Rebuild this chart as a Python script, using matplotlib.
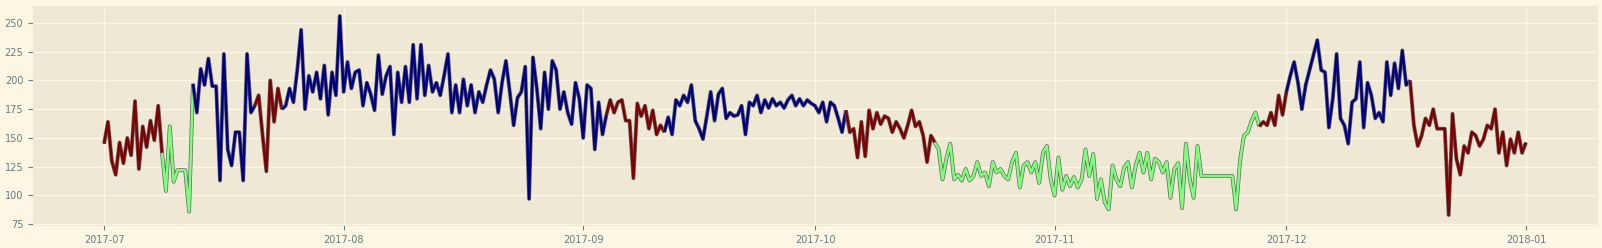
import numpy as np
import pandas as pd
import matplotlib
matplotlib.use("Agg")
import matplotlib.pyplot as plt
import matplotlib.patheffects as pe

# 12-hourly readings, 2017-07-01 00:00 -> 2018-01-01 00:00
jul = [145, 164, 130, 118, 146, 128, 150, 135, 182, 123,
       160, 142, 165, 148, 178, 137, 104, 160, 112, 122,
       122, 122, 86, 197, 172, 210, 196, 219, 195, 195,
       113, 223, 140, 126, 155, 155, 113, 223, 172, 178,
       187, 153, 121, 200, 164, 193, 175, 178, 193, 181,
       209, 244, 175, 204, 190, 207, 184, 213, 170, 207,
       187, 256]
aug = [190, 216, 193, 207, 209, 178, 198, 188, 174, 222,
       188, 204, 212, 153, 207, 181, 212, 181, 231, 184,
       231, 187, 213, 190, 198, 187, 204, 223, 172, 196,
       172, 201, 178, 196, 172, 190, 181, 196, 209, 201,
       172, 198, 217, 190, 161, 185, 190, 212, 97, 220,
       193, 158, 207, 175, 217, 209, 175, 190, 172, 162,
       198, 184]
sep = [150, 196, 193, 140, 181, 153, 170, 183, 172, 181,
       183, 165, 165, 115, 180, 169, 178, 158, 174, 153,
       161, 155, 168, 153, 183, 178, 187, 181, 196, 165,
       158, 149, 169, 190, 165, 188, 193, 167, 172, 169,
       170, 178, 153, 181, 178, 187, 172, 183, 176, 184,
       178, 181, 176, 183, 187, 178, 184, 178, 183, 180]
oct_ = [178, 172, 181, 164, 181, 178, 167, 155, 174, 155,
        158, 133, 164, 134, 174, 158, 172, 162, 169, 167,
        155, 164, 158, 150, 161, 174, 160, 164, 152, 129,
        152, 146, 140, 114, 132, 145, 114, 118, 113, 123,
        113, 117, 129, 117, 120, 108, 129, 120, 123, 117,
        114, 129, 137, 107, 126, 129, 120, 129, 111, 137,
        143, 114]
nov = [100, 133, 105, 117, 108, 116, 107, 114, 140, 117,
       136, 97, 114, 94, 88, 126, 114, 108, 124, 129,
       107, 126, 137, 120, 137, 114, 132, 129, 120, 129,
       98, 123, 128, 89, 145, 114, 98, 143, 117, 117,
       117, 117, 117, 117, 117, 117, 117, 88, 130, 152,
       155, 165, 172, 160, 164, 161, 172, 161, 187, 170]
dec = [190, 204, 216, 198, 175, 196, 209, 222, 235, 209,
       207, 159, 184, 223, 167, 161, 145, 181, 184, 216,
       159, 198, 187, 167, 172, 164, 216, 187, 215, 193,
       226, 196, 200, 161, 143, 152, 167, 161, 175, 158,
       158, 158, 83, 171, 132, 118, 143, 137, 155, 152,
       143, 149, 161, 158, 175, 137, 155, 126, 149, 137,
       155, 137, 146]

# hidden state of each run: 0 = high, 1 = low, 2 = middle
run_states = [2, 1, 0, 2, 0, 2, 0, 2, 1, 2, 0, 2]
run_lengths = [15, 8, 16, 7, 84, 15, 47, 23, 84, 7, 32, 31]

values = np.array(jul + aug + sep + oct_ + nov + dec, dtype=float)
dates = pd.date_range("2017-07-01", periods=len(values), freq="12h")

plt.style.use("Solarize_Light2")
fig = plt.figure(figsize=(16.02, 2.48), dpi=100)
ax = fig.add_axes([0.0206, 0.0927, 0.9763, 0.8831])

start = 0
for state, n in zip(run_states, run_lengths):
    stop = min(start + n + 1, len(values))
    ax.plot(dates[start:stop], values[start:stop], color=plt.cm.jet(state / 2),
            lw=1.8, path_effects=[pe.Stroke(linewidth=2.8, foreground="0.4"), pe.Normal()])
    start += n

ax.set_yticks([75, 100, 125, 150, 175, 200, 225, 250])
ax.tick_params(labelsize=7)

fig.savefig("out.png", dpi=100)
